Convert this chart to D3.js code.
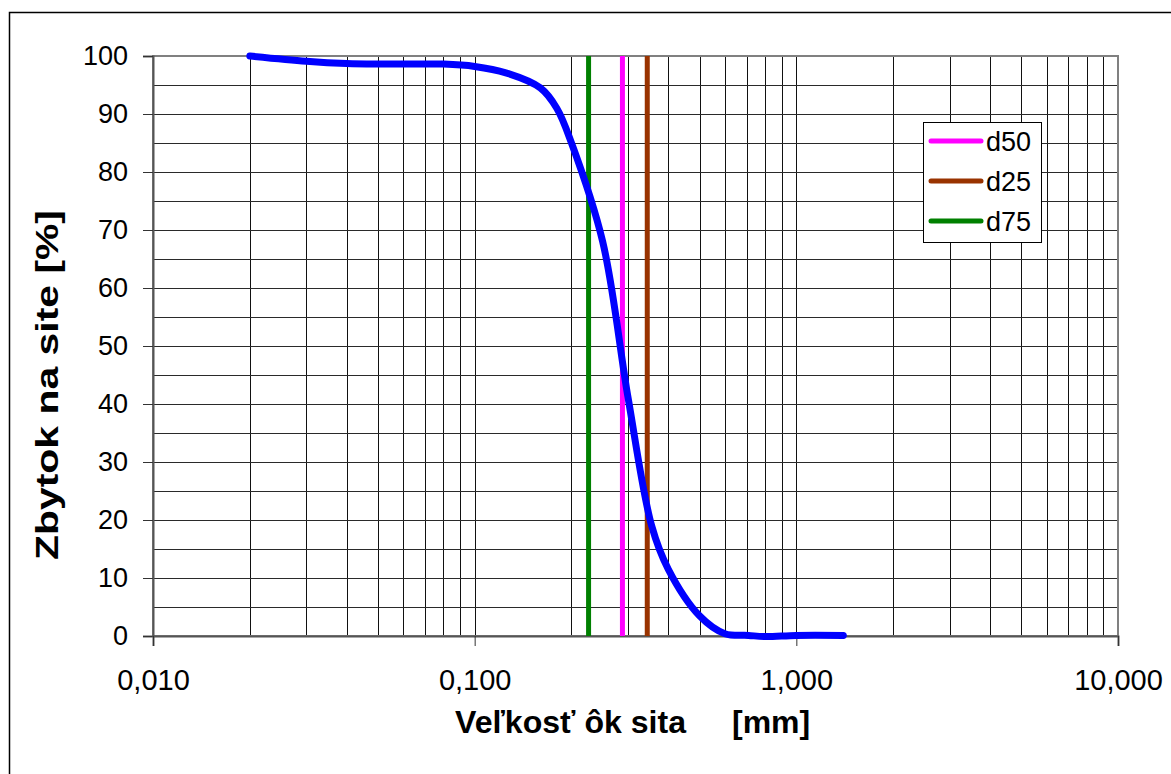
<!DOCTYPE html>
<html>
<head>
<meta charset="utf-8">
<style>
	body { margin: 0; background: white; }
	text { font-family: "Liberation Sans", Arial, sans-serif; fill: black; }
</style>
<title>Zbytok na site</title>
</head>
<body>
<script src="https://cdn.jsdelivr.net/npm/d3@7"></script>
<script>

// sieve curve (size in mm, residue in %)
var sieve   = [0.02, 0.03, 0.04, 0.05, 0.063, 0.08, 0.1, 0.125, 0.16, 0.18, 0.2, 0.25, 0.3, 0.355, 0.4, 0.5, 0.6, 0.71, 0.8, 1.0, 1.4];
var residue = [100, 99.1, 98.7, 98.6, 98.6, 98.6, 98.2, 97.1, 94.5, 91, 85, 68, 41, 19, 11.5, 3.5, 0.4, 0.1, -0.1, 0.1, 0.1];

// characteristic sizes
var dNames  = ['d50', 'd25', 'd75'];
var dValues = [0.288, 0.344, 0.226];
var dColors = ['#ff00ff', '#993300', '#008000'];

var xTicks = [0.01, 0.1, 1, 10];
var yTicks = [0, 10, 20, 30, 40, 50, 60, 70, 80, 90, 100];

var W = 1171, H = 774;
var box = {left: 153, top: 56, right: 1118, bottom: 636};

var fmt = d3.formatLocale({decimal: ',', thousands: ' ', grouping: [3], currency: ['', '']}).format('.3f');

var svg = d3.select('body').append('svg')
	.attr('width', W)
	.attr('height', H);

// outer chart border
svg.append('rect')
	.attr('x', 9.5).attr('y', 12.5)
	.attr('width', 1200).attr('height', 800)
	.attr('fill', 'white')
	.attr('stroke', 'black')
	.attr('stroke-width', 1.5);

var x = d3.scaleLog()
	.domain([0.01, 10])
	.range([box.left, box.right]);

var y = d3.scaleLinear()
	.domain([0, 100])
	.range([box.bottom, box.top]);

// grid ////////////////////////////////////////////////////////////////

var grid = svg.append('g')
	.attr('shape-rendering', 'crispEdges');

grid.selectAll('.vgrid')
	.data(x.ticks().filter(d => d > 0.01 && d < 10))
	.join('line')
		.attr('class', 'vgrid')
		.attr('x1', d => Math.round(x(d)) + 0.5).attr('x2', d => Math.round(x(d)) + 0.5)
		.attr('y1', box.top).attr('y2', box.bottom)
		.attr('stroke', '#111')
		.attr('stroke-width', 1);

grid.selectAll('.hgrid')
	.data(d3.range(5, 100, 5))
	.join('line')
		.attr('class', 'hgrid')
		.attr('x1', box.left).attr('x2', box.right)
		.attr('y1', d => Math.round(y(d)) + 0.5).attr('y2', d => Math.round(y(d)) + 0.5)
		.attr('stroke', '#2a2a2a')
		.attr('stroke-width', 1);

// plot frame
svg.append('rect')
	.attr('x', box.left).attr('y', box.top)
	.attr('width', box.right - box.left).attr('height', box.bottom - box.top)
	.attr('fill', 'none')
	.attr('stroke', '#808080')
	.attr('stroke-width', 2);

// axes ////////////////////////////////////////////////////////////////

var yAxis = svg.append('g')
	.attr('transform', `translate(${box.left},0)`)
	.call(d3.axisLeft(y).tickValues(yTicks).tickSize(10).tickPadding(15));
yAxis.attr('font-size', 27).attr('font-family', null);
yAxis.select('.domain').attr('stroke', '#555').attr('stroke-width', 2);
yAxis.selectAll('.tick line').attr('stroke', '#333');

var xAxis = svg.append('g')
	.attr('transform', `translate(0,${box.bottom})`)
	.call(d3.axisBottom(x).tickValues(xTicks).tickFormat(fmt).tickSize(10).tickPadding(23));
xAxis.attr('font-size', 29).attr('font-family', null);
xAxis.select('.domain').attr('stroke', '#555').attr('stroke-width', 2);
xAxis.selectAll('.tick line').attr('stroke', '#333');

// axis titles
svg.append('text')
	.attr('x', 455).attr('y', 733)
	.attr('font-size', 32).attr('font-weight', 'bold')
	.attr('textLength', 231).attr('lengthAdjust', 'spacingAndGlyphs')
	.text('Veľkosť ôk sita');
svg.append('text')
	.attr('x', 732).attr('y', 733)
	.attr('font-size', 32).attr('font-weight', 'bold')
	.text('[mm]');

svg.append('text')
	.attr('transform', 'translate(58,385) rotate(-90)')
	.attr('text-anchor', 'middle')
	.attr('font-size', 31).attr('font-weight', 'bold')
	.attr('textLength', 350).attr('lengthAdjust', 'spacingAndGlyphs')
	.text('Zbytok na site [%]');

// characteristic lines ////////////////////////////////////////////////

svg.selectAll('.dline')
	.data(dValues)
	.join('line')
		.attr('class', 'dline')
		.attr('x1', d => x(d)).attr('x2', d => x(d))
		.attr('y1', y(100)).attr('y2', y(0))
		.attr('stroke', (d, i) => dColors[i])
		.attr('stroke-width', 5);

// sieve curve
var points = sieve.map((s, i) => [s, residue[i]]);
svg.append('path')
	.datum(points)
	.attr('fill', 'none')
	.attr('stroke', '#0000ff')
	.attr('stroke-width', 7)
	.attr('stroke-linecap', 'round')
	.attr('stroke-linejoin', 'round')
	.attr('d', d3.line()
		.x(d => x(d[0]))
		.y(d => y(d[1]))
		.curve(d3.curveCatmullRom.alpha(0.5)));

// legend //////////////////////////////////////////////////////////////

var legend = svg.append('g')
	.attr('transform', 'translate(923,122)');
legend.append('rect')
	.attr('x', 0.5).attr('y', 0.5)
	.attr('width', 118).attr('height', 120)
	.attr('fill', 'white')
	.attr('stroke', 'black');

var item = legend.selectAll('.item')
	.data(dNames)
	.join('g')
		.attr('class', 'item')
		.attr('transform', (d, i) => `translate(0,${19 + i * 40})`);
item.append('line')
	.attr('x1', 8).attr('x2', 58)
	.attr('stroke', (d, i) => dColors[i])
	.attr('stroke-width', 5)
	.attr('stroke-linecap', 'round');
item.append('text')
	.attr('x', 63)
	.attr('dy', '0.36em')
	.attr('font-size', 27)
	.text(d => d);

</script>
</body>
</html>
